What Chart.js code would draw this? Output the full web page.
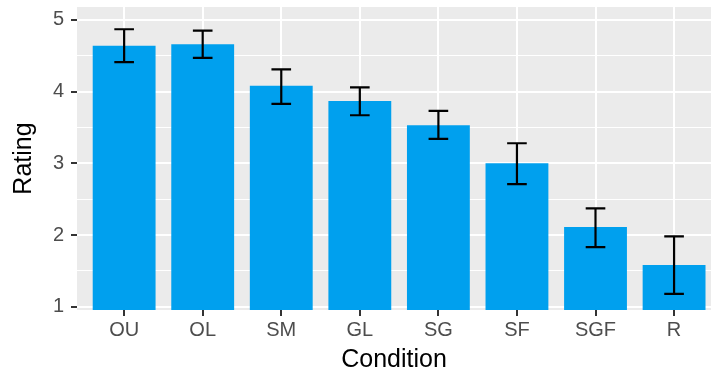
<!DOCTYPE html>
<html>
<head>
<meta charset="utf-8">
<script src="https://cdn.jsdelivr.net/npm/chart.js@4.4.1/dist/chart.umd.min.js"></script>
<style>
  html, body { margin: 0; padding: 0; background: #ffffff; }
  #wrap { width: 711px; height: 375px; }
</style>
</head>
<body>
<div id="wrap"><canvas id="chart" width="711" height="375"></canvas></div>
<script>
// Mean rating per condition, with the interval shown by the error bars
const conditions = ['OU', 'OL', 'SM', 'GL', 'SG', 'SF', 'SGF', 'R'];
const meanRating = [4.64, 4.66, 4.08, 3.87, 3.53, 3.00, 2.11, 1.58];
const errLower   = [4.41, 4.47, 3.83, 3.67, 3.34, 2.71, 1.83, 1.18];
const errUpper   = [4.87, 4.85, 4.31, 4.06, 3.73, 3.28, 2.37, 1.98];
const yTickValues = [1, 1.5, 2, 2.5, 3, 3.5, 4, 4.5, 5];

const FONT = '"Liberation Sans", Arial, Helvetica, sans-serif';

// Grey panel behind the plotting area
const panelBackground = {
  id: 'panelBackground',
  beforeDraw(chart) {
    const { ctx, chartArea: a } = chart;
    ctx.save();
    ctx.fillStyle = '#EBEBEB';
    ctx.fillRect(a.left, a.top, a.right - a.left, a.bottom - a.top);
    ctx.restore();
  }
};

// Vertical interval with caps on top of each bar
const errorBars = {
  id: 'errorBars',
  afterDatasetsDraw(chart) {
    const { ctx } = chart;
    const xs = chart.scales.x, ys = chart.scales.y;
    const capHalf = (xs.getPixelForValue(1) - xs.getPixelForValue(0)) * 0.125;
    ctx.save();
    ctx.strokeStyle = '#000000';
    ctx.lineWidth = 2.2;
    ctx.lineCap = 'butt';
    conditions.forEach((c, i) => {
      const x = xs.getPixelForValue(i);
      const yl = ys.getPixelForValue(errLower[i]);
      const yu = ys.getPixelForValue(errUpper[i]);
      ctx.beginPath();
      ctx.moveTo(x, yl); ctx.lineTo(x, yu);
      ctx.moveTo(x - capHalf, yu); ctx.lineTo(x + capHalf, yu);
      ctx.moveTo(x - capHalf, yl); ctx.lineTo(x + capHalf, yl);
      ctx.stroke();
    });
    ctx.restore();
  }
};

const isMajor = (ctx) => ctx.tick && Number.isInteger(ctx.tick.value);

new Chart(document.getElementById('chart'), {
  type: 'bar',
  data: {
    datasets: [{
      data: meanRating.map((v, i) => ({ x: i, y: v })),
      backgroundColor: '#00A0EE',
      borderWidth: 0,
      categoryPercentage: 1,
      barPercentage: 0.8
    }]
  },
  options: {
    responsive: false,
    animation: false,
    events: [],
    layout: { padding: { top: 7, right: 0, bottom: 0, left: 0 } },
    plugins: { legend: { display: false }, tooltip: { enabled: false } },
    scales: {
      x: {
        type: 'linear',
        offset: false,
        min: -0.6,
        max: 7.47,
        afterBuildTicks(scale) { scale.ticks = conditions.map((c, i) => ({ value: i })); },
        afterFit(scale) {
          scale.height = 65;
          scale.paddingLeft = 0;
          scale.paddingRight = 0;
        },
        border: { display: false },
        grid: {
          offset: false,
          color: '#FFFFFF',
          lineWidth: 2,
          drawTicks: true,
          tickLength: 6,
          tickColor: '#333333',
          tickWidth: 2
        },
        ticks: {
          autoSkip: false,
          maxRotation: 0,
          padding: 2,
          color: '#4D4D4D',
          font: { family: FONT, size: 20 },
          callback: (v) => conditions[v]
        },
        title: {
          display: true,
          text: 'Condition',
          color: '#000000',
          font: { family: FONT, size: 25 },
          padding: { top: 0, bottom: 0 }
        }
      },
      y: {
        type: 'linear',
        min: 0.954,
        max: 5.18,
        afterBuildTicks(scale) { scale.ticks = yTickValues.map(v => ({ value: v })); },
        afterFit(scale) {
          scale.width = 77;
          scale.paddingTop = 0;
          scale.paddingBottom = 0;
        },
        border: { display: false },
        grid: {
          color: '#FFFFFF',
          lineWidth: (ctx) => isMajor(ctx) ? 2 : 1,
          drawTicks: true,
          tickLength: 6,
          tickColor: (ctx) => isMajor(ctx) ? '#333333' : 'rgba(0,0,0,0)',
          tickWidth: 2
        },
        ticks: {
          padding: 7,
          color: '#4D4D4D',
          font: { family: FONT, size: 20 },
          callback: (v) => Number.isInteger(v) ? String(v) : ''
        },
        title: {
          display: true,
          text: 'Rating',
          color: '#000000',
          font: { family: FONT, size: 25 },
          padding: { top: 9, bottom: 0 }
        }
      }
    }
  },
  plugins: [panelBackground, errorBars]
});
</script>
</body>
</html>
